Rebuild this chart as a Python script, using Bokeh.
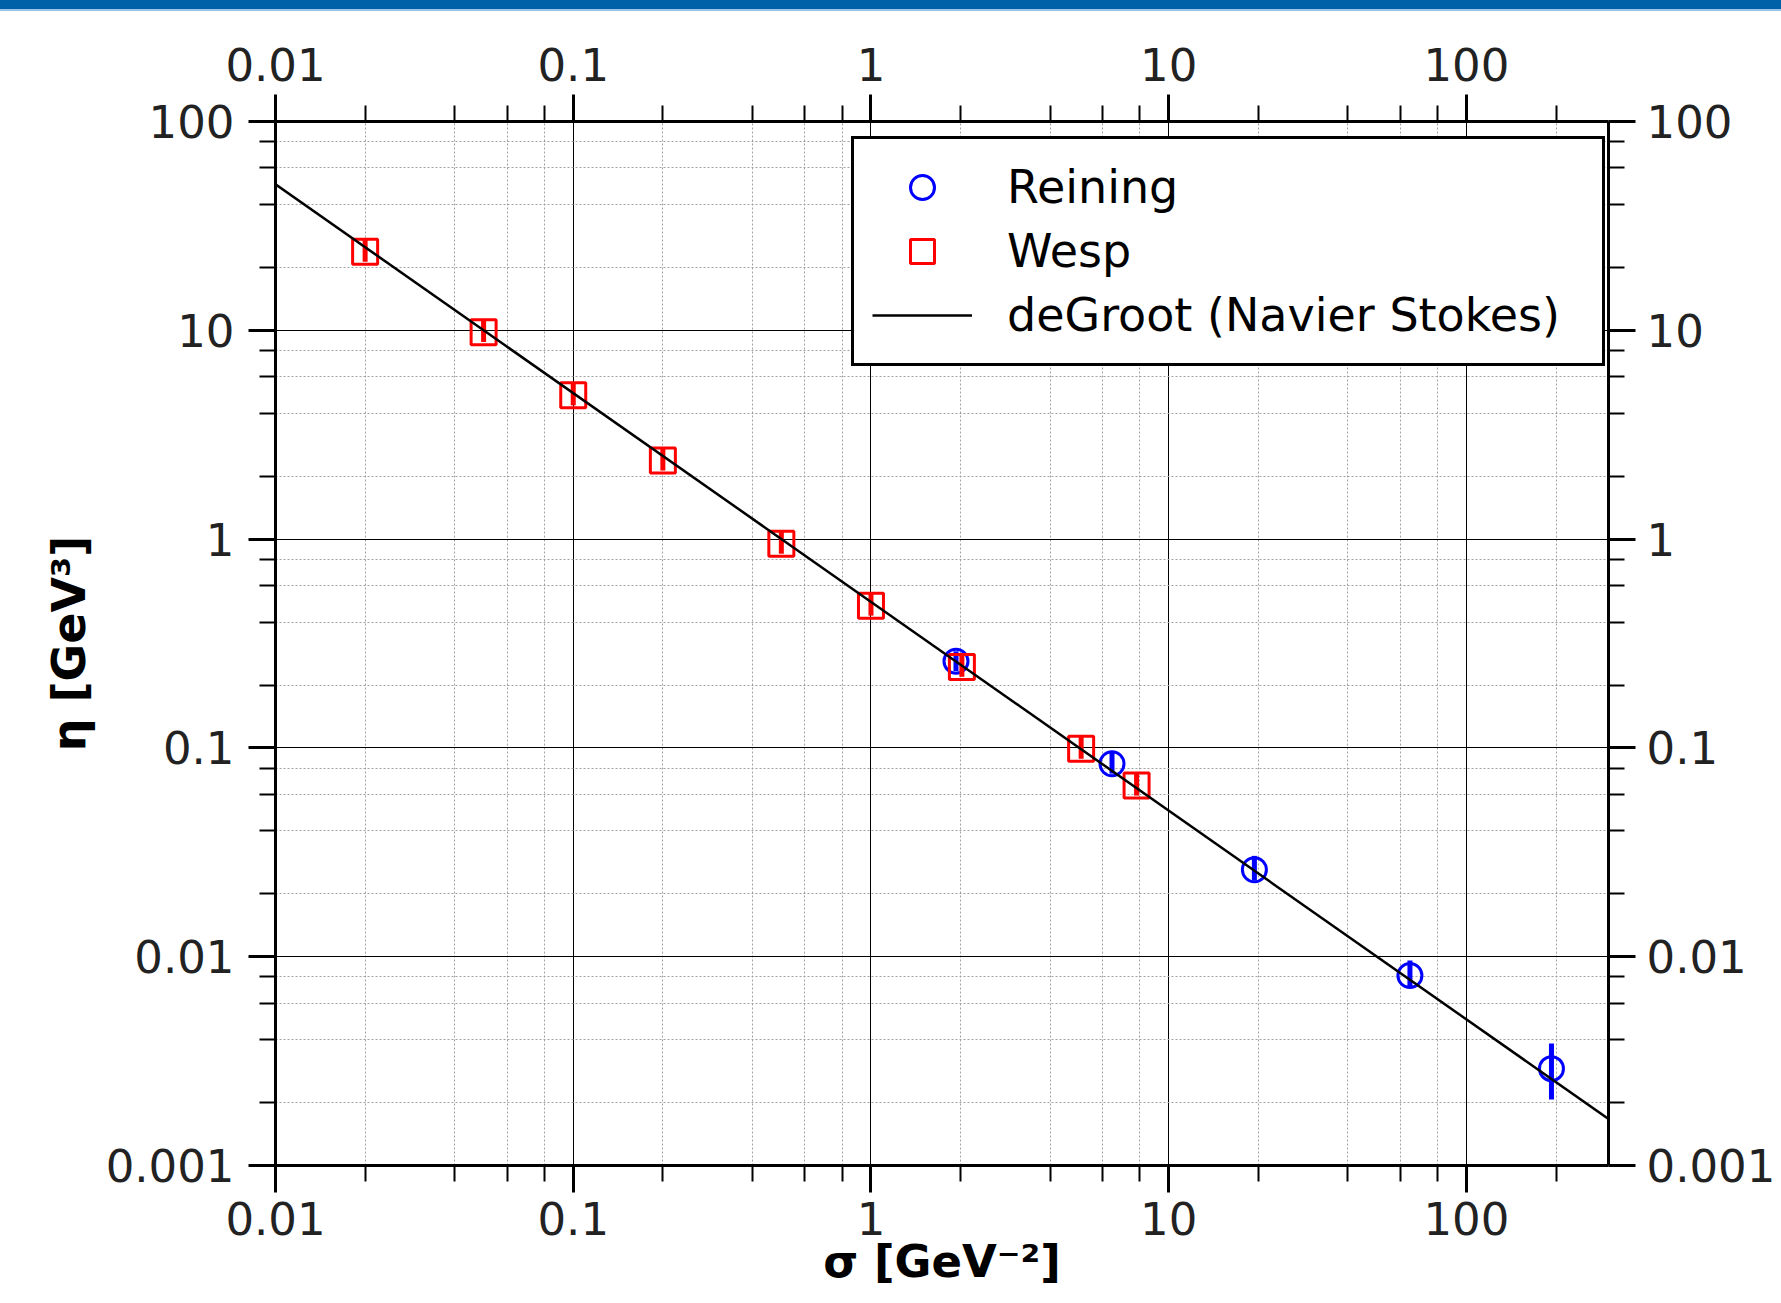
from bokeh.plotting import figure
from bokeh.models import (LogAxis, FixedTicker, CustomJSTickFormatter, Legend, LegendItem,
                          ColumnDataSource, Div)
from bokeh.layouts import column
from bokeh.embed import file_html
from bokeh.resources import INLINE

# ---------------- data ----------------
reining_sigma = [1.93, 6.45, 19.4, 64.6, 193.0]
reining_eta = [0.26, 0.084, 0.0261, 0.00813, 0.00291]
reining_err_hi = [0.030, 0.0116, 0.0043, 0.00146, 0.00093]
reining_err_lo = [0.027, 0.0087, 0.0029, 0.00101, 0.00084]

wesp_sigma = [0.02, 0.05, 0.1, 0.2, 0.5, 1.0, 2.02, 5.08, 7.8]
wesp_eta = [23.8, 9.8, 4.88, 2.38, 0.95, 0.48, 0.244, 0.099, 0.066]
wesp_err_hi = [3.3, 1.35, 0.67, 0.33, 0.13, 0.066, 0.034, 0.0137, 0.0091]
wesp_err_lo = [2.5, 1.02, 0.51, 0.25, 0.099, 0.05, 0.025, 0.0103, 0.0069]

degroot_sigma = [0.01, 300.0]
degroot_eta = [50.0, 0.00167]

x_ticks = [0.01, 0.1, 1, 10, 100]
x_tick_labels = ["0.01", "0.1", "1", "10", "100"]
x_minor = [0.02, 0.04, 0.06, 0.08, 0.2, 0.4, 0.6, 0.8, 2, 4, 6, 8, 20, 40, 60, 80, 200]
y_ticks = [0.001, 0.01, 0.1, 1, 10, 100]
y_tick_labels = ["0.001", "0.01", "0.1", "1", "10", "100"]
y_minor = [0.002, 0.004, 0.006, 0.008, 0.02, 0.04, 0.06, 0.08, 0.2, 0.4, 0.6, 0.8,
           2, 4, 6, 8, 20, 40, 60, 80]

FONT = "DejaVu Sans"
TICK_SIZE = "45px"

# ---------------- figure ----------------
W, H = 1781, 1292
p = figure(width=W, height=H, x_axis_type="log", y_axis_type="log",
           x_range=(0.01, 300), y_range=(0.001, 100),
           output_backend="svg", toolbar_location=None,
           min_border_left=275, min_border_right=173,
           min_border_top=110, min_border_bottom=138)
p.outline_line_color = None
p.background_fill_color = "white"
p.border_fill_color = "white"

xticker = FixedTicker(ticks=x_ticks, minor_ticks=x_minor)
yticker = FixedTicker(ticks=y_ticks, minor_ticks=y_minor)

fmt_code = """
const i = tvals.findIndex(t => Math.abs(Math.log10(t) - Math.log10(tick)) < 1e-6);
return i >= 0 ? tlabels[i] : '';
"""
xfmt = CustomJSTickFormatter(args=dict(tvals=x_ticks, tlabels=x_tick_labels), code=fmt_code)
yfmt = CustomJSTickFormatter(args=dict(tvals=y_ticks, tlabels=y_tick_labels), code=fmt_code)

top_axis = LogAxis()
right_axis = LogAxis()
p.add_layout(top_axis, "above")
p.add_layout(right_axis, "right")
bottom_axis = p.below[0]
left_axis = p.left[0]

def style_axis(ax, ticker, fmt, standoff):
    ax.ticker = ticker
    ax.formatter = fmt
    ax.axis_line_width = 3
    ax.axis_line_color = "black"
    ax.major_tick_line_width = 3
    ax.major_tick_line_color = "black"
    ax.minor_tick_line_width = 2
    ax.minor_tick_line_color = "black"
    ax.major_tick_out = 27
    ax.major_tick_in = 0
    ax.minor_tick_out = 16
    ax.minor_tick_in = 0
    ax.major_label_text_font = FONT
    ax.major_label_text_font_size = TICK_SIZE
    ax.major_label_text_color = "#222222"
    ax.major_label_standoff = standoff
    ax.axis_label_text_font = FONT
    ax.axis_label_text_font_style = "bold"
    ax.axis_label_text_font_size = "45px"
    ax.axis_label_text_color = "black"

style_axis(bottom_axis, xticker, xfmt, 9)
style_axis(top_axis, xticker, xfmt, 14)
style_axis(left_axis, yticker, yfmt, 14)
style_axis(right_axis, yticker, yfmt, 11)

bottom_axis.axis_label = "σ [GeV⁻²]"
bottom_axis.axis_label_standoff = -3
left_axis.axis_label = "η [GeV³]"
left_axis.axis_label_standoff = 7
left_axis.axis_label_text_font_size = "46px"

for g, t in ((p.xgrid[0], xticker), (p.ygrid[0], yticker)):
    g.ticker = t
    g.grid_line_color = "black"
    g.grid_line_width = 1
    g.grid_line_alpha = 1.0
    g.minor_grid_line_color = "#a0a0a0"
    g.minor_grid_line_width = 1
    g.minor_grid_line_dash = "2 2"

# ---------------- glyphs ----------------
rsrc = ColumnDataSource(dict(
    x=reining_sigma, y=reining_eta,
    lo=[e - d for e, d in zip(reining_eta, reining_err_lo)],
    hi=[e + u for e, u in zip(reining_eta, reining_err_hi)]))
wsrc = ColumnDataSource(dict(
    x=wesp_sigma, y=wesp_eta,
    lo=[e - d for e, d in zip(wesp_eta, wesp_err_lo)],
    hi=[e + u for e, u in zip(wesp_eta, wesp_err_hi)]))
dsrc = ColumnDataSource(dict(x=degroot_sigma, y=degroot_eta))

p.segment(x0="x", y0="lo", x1="x", y1="hi", source=rsrc, line_color="#0000ff", line_width=5)
r_circ = p.scatter(x="x", y="y", source=rsrc, marker="circle", size=24,
                   fill_color=None, line_color="#0000ff", line_width=3)
p.segment(x0="x", y0="lo", x1="x", y1="hi", source=wsrc, line_color="#ff0000", line_width=5)
r_sq = p.scatter(x="x", y="y", source=wsrc, marker="square", size=25,
                 fill_color=None, line_color="#ff0000", line_width=3)
r_line = p.line(x="x", y="y", source=dsrc, line_color="black", line_width=2.5)

legend = Legend(items=[LegendItem(label="Reining", renderers=[r_circ]),
                       LegendItem(label="Wesp", renderers=[r_sq]),
                       LegendItem(label="deGroot (Navier Stokes)", renderers=[r_line])],
                location=(576, 799), margin=0, padding=18, spacing=4,
                glyph_width=100, glyph_height=60, label_standoff=35, label_width=577,
                label_text_font=FONT, label_text_font_size="46px",
                label_text_color="black",
                border_line_color="black", border_line_width=3, border_line_alpha=1.0,
                background_fill_color="white", background_fill_alpha=1.0)
p.add_layout(legend, "center")

bar = Div(text="", width=W, height=11, margin=0,
          styles={"background-color": "#0060a8", "border-bottom": "2px solid #9cc4e8",
                  "box-sizing": "border-box"})

layout = column(bar, p, spacing=0)
open("out.html", "w").write(file_html(layout, INLINE))
